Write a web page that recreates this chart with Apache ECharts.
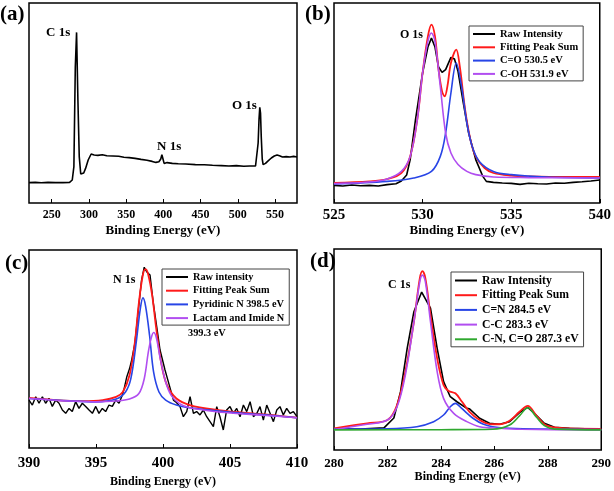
<!DOCTYPE html>
<html>
<head>
<meta charset="utf-8">
<script src="https://cdn.jsdelivr.net/npm/echarts@6/dist/echarts.min.js"></script>
<style>
  html, body { margin: 0; padding: 0; background: #fff; }
  #chart { width: 614px; height: 491px; }
</style>
</head>
<body>
<div id="chart"></div>
<script>
// all intensities are in arbitrary units, 0 = bottom of frame, 100 = top
const FONT = '"Liberation Serif", "Times New Roman", serif'

// (a) survey spectrum
const surveyTicks = [250, 300, 350, 400, 450, 500, 550]
const survey = [
    [219.5, 10.2], [228, 10.3], [236, 10.1], [245, 10.3], [255, 10.2], [265, 10.2], [274, 10.3],
    [277.6, 11.5], [279.8, 18.2], [281.7, 68], [283.4, 85.3], [285.2, 51.5], [287, 23.2],
    [289, 14.5], [291, 13.5], [293, 15], [295.5, 17.3], [299, 21.5], [303, 24.5], [307, 24],
    [312, 23.8], [318, 24.1], [324, 23.6], [332, 23.5], [340, 23.4], [347, 22.9], [354, 22.7],
    [362, 22.3], [370, 21.8], [378, 21.4], [385, 20.8], [390, 20.3], [394, 20.6], [396.5, 22],
    [398, 24.2], [399.5, 22], [401, 19.8], [405, 20.2], [412, 19.8], [420, 19.6], [430, 19.5],
    [443, 19.2], [455, 19.1], [466, 18.9], [478, 18.7], [488, 18.5], [498, 18.7], [508, 18.4],
    [516, 18.5], [523.8, 18.5], [526, 19.5], [527.3, 30], [528.5, 42], [529.5, 47.8],
    [530.5, 45], [531.5, 33], [532.8, 22], [534, 19.2], [537.2, 19.8], [540, 20.8], [545, 22.5],
    [549, 23.5], [552.7, 24], [556, 23.6], [560, 23], [565, 23.2], [570, 23], [575, 23.3], [579.5, 23]
]

// (b) O 1s
const oRaw = [
    [525, 8.8], [525.5, 8.5], [526, 9], [526.5, 8.6], [527, 8.8], [527.5, 8.5], [528, 9.2],
    [528.5, 9.6], [528.8, 11], [529.1, 14], [529.3, 21.7], [529.6, 41.7], [530, 65], [530.3, 78],
    [530.5, 82.5], [530.7, 78], [530.9, 68], [531.1, 65.3], [531.3, 66.7], [531.6, 72.8],
    [531.8, 72], [532, 65.8], [532.3, 50], [532.6, 35], [533, 21.7], [533.4, 13.3], [533.6, 10.8],
    [534, 10.3], [534.5, 10], [535, 9.8], [535.5, 9.3], [536, 9.9], [536.5, 9.6], [537, 9.5],
    [537.5, 10], [538, 9.9], [538.5, 10.3], [539, 10.6], [539.5, 11], [540, 11.5]
]
const oSum = [
    [525, 10], [527, 10.8], [528, 12], [528.8, 15], [529.3, 23.3], [529.7, 41.7], [530, 65],
    [530.3, 83.3], [530.5, 89.2], [530.7, 83.3], [530.9, 66.7], [531.1, 55.8], [531.25, 53.3],
    [531.4, 58.3], [531.6, 70], [531.9, 76.7], [532.1, 68.3], [532.4, 46.7], [532.7, 31.7],
    [533, 23.3], [533.5, 17.5], [534, 15], [535, 13.7], [536, 13.3], [538, 13], [540, 13]
]
const oCO = [
    [525, 9.5], [528, 10.8], [529.5, 12.5], [530.5, 15.8], [531, 23.3], [531.3, 35], [531.6, 55],
    [531.9, 70], [532.2, 58.3], [532.5, 40], [532.8, 28.3], [533.2, 20.8], [534, 15.8],
    [535, 14.2], [537, 13], [540, 12.5]
]
const oCOH = [
    [525, 9.7], [527, 10.5], [528, 12], [528.8, 15.8], [529.3, 23.3], [529.7, 41.7], [530, 65],
    [530.3, 80.8], [530.5, 85], [530.7, 80.8], [531, 58.3], [531.3, 35], [531.6, 25], [532, 19.2],
    [532.5, 15.8], [533, 14.2], [534, 13], [536, 12.7], [540, 12.5]
]

// (c) N 1s
const nRaw = [
    [390, 24.2], [390.25, 21.7], [390.5, 25.9], [390.75, 22.6], [391, 25.9], [391.24, 22.6],
    [391.49, 25.1], [391.74, 21], [391.99, 24.2], [392.24, 22.6], [392.49, 19.2], [392.74, 17.5],
    [392.99, 20], [393.23, 18.4], [393.48, 23.4], [393.73, 20], [393.98, 22.6], [394.23, 21],
    [394.48, 19.2], [394.73, 17.5], [394.98, 21], [395.22, 17.5], [395.47, 20], [395.72, 18.4],
    [395.97, 21.7], [396.22, 21], [396.47, 24.2], [396.72, 22.6], [396.97, 26.8], [397.1, 30],
    [397.3, 36], [397.5, 40], [397.66, 44.4], [397.9, 52.9], [398.16, 69.7], [398.4, 84.8],
    [398.6, 91.3], [398.78, 89], [399.03, 87.4], [399.28, 73], [399.53, 61.3], [399.78, 49.5],
    [400.15, 39.4], [400.5, 31], [400.78, 24.2], [401, 23], [401.27, 20.9], [401.52, 15.8],
    [401.77, 18.4], [402.02, 25.9], [402.27, 17.5], [402.51, 18.4], [402.76, 16.7], [403.01, 19.2],
    [403.26, 15.8], [403.51, 13.3], [403.76, 10.8], [404.01, 20.9], [404.25, 15.8], [404.5, 9.1],
    [404.75, 19.2], [405, 20.9], [405.25, 17.5], [405.5, 20], [405.75, 15.8], [406, 21.7],
    [406.25, 18.4], [406.5, 23.4], [406.75, 15.8], [407, 17.5], [407.24, 20.9], [407.49, 14.1],
    [407.74, 21.7], [407.99, 17.5], [408.24, 13.3], [408.49, 19.2], [408.73, 20.9], [408.98, 16.7],
    [409.23, 20], [409.48, 17.5], [409.73, 18.4], [410, 15.8]
]
const nSum = [
    [390, 25.3], [392, 24.2], [394, 23.7], [395.5, 24.2], [396.5, 25.8], [397, 28.3], [397.5, 36.7],
    [397.9, 53.3], [398.2, 73.3], [398.5, 87.5], [398.7, 90.3], [398.9, 87.5], [399.2, 76.7],
    [399.5, 60], [399.9, 41.7], [400.3, 31.7], [401, 25], [402, 21.7], [404, 19.2], [406, 17.8],
    [408, 16.7], [410, 15.3]
]
const nPyr = [
    [390, 25], [393, 23.8], [395, 23.3], [396.5, 24.7], [397.2, 28.3], [397.6, 35], [398, 53.3],
    [398.3, 70], [398.5, 75.8], [398.7, 71.7], [399, 56.7], [399.3, 38.3], [399.7, 28.3],
    [400.2, 24.2], [401, 21.7], [402, 20.3], [404, 18.8], [406, 17.5], [408, 16.5], [410, 15.3]
]
const nLac = [
    [390, 25], [393, 23.7], [395, 23.3], [396.5, 23.7], [397.5, 24.7], [398.2, 27.5], [398.6, 35],
    [398.9, 48.3], [399.1, 55], [399.3, 58.3], [399.5, 55.8], [399.8, 45], [400.2, 33.3],
    [400.6, 26.7], [401.2, 22.5], [402, 20.3], [404, 18.3], [406, 17.2], [408, 16.3], [410, 15.3]
]

// (d) C 1s
const cRaw = [
    [280, 10.4], [281, 10.4], [281.87, 11], [282.24, 15.9], [282.49, 29], [282.74, 50.7],
    [282.99, 68.8], [283.28, 78.6], [283.61, 70.6], [283.86, 50.6], [284.1, 34], [284.35, 26.5],
    [284.6, 24], [284.97, 20.7], [285.07, 20.5], [285.45, 15.8], [285.82, 13.3], [286.19, 12.8],
    [286.57, 14.1], [286.94, 18.6], [287.25, 21.2], [287.56, 17.4], [287.87, 13.3], [288.25, 11.3],
    [288.81, 10.8], [290, 10.3]
]
const cSum = [
    [280, 10.8], [281.24, 13.3], [282, 14.9], [282.36, 22.4], [282.67, 39], [282.99, 63.8],
    [283.21, 85.4], [283.31, 89], [283.42, 85.4], [283.61, 67.2], [283.86, 45.6], [284.1, 32.3],
    [284.29, 29.4], [284.54, 28.2], [284.79, 24], [285.07, 19], [285.45, 14.9], [285.82, 12.9],
    [286.19, 12.8], [286.57, 14.6], [286.94, 19], [287.25, 22], [287.56, 17.4], [287.87, 12.8],
    [288.25, 11.2], [288.81, 10.7], [290, 10.5]
]
const cCN = [
    [280, 10.4], [282, 10.6], [283.1, 11.6], [283.73, 14.1], [284.1, 17.4], [284.35, 21.5],
    [284.54, 23.2], [284.72, 21.5], [284.92, 19], [285.2, 15.8], [285.57, 12.9], [285.94, 11.6],
    [286.57, 10.8], [288, 10.4], [290, 10.2]
]
const cCC = [
    [280, 10.2], [281.24, 12.8], [282, 14.9], [282.36, 21.5], [282.67, 37.3], [282.99, 63.8],
    [283.21, 83.7], [283.31, 87], [283.42, 83.7], [283.61, 63.8], [283.86, 39], [284.1, 25.7],
    [284.48, 18.2], [284.97, 14.1], [285.45, 11.6], [286.19, 10.8], [287, 10.3], [290, 10]
]
const cCO = [
    [280, 10], [284, 10.1], [285.94, 10.3], [286.57, 12.4], [286.94, 17], [287.25, 21],
    [287.56, 16.6], [287.87, 12.1], [288.25, 10.4], [290, 10]
]

const grids = [
    { left: 29, top: 3, width: 268, height: 200 },
    { left: 334, top: 3, width: 268, height: 200 },
    { left: 29, top: 250, width: 268, height: 198 },
    { left: 334, top: 249, width: 268, height: 201 }
]

function xAxis(i, min, max, ticks, fontSize, margin, nameGap, nameSize) {
    return {
        type: 'value', gridIndex: i, min: min, max: max,
        axisLine: { show: false },
        splitLine: { show: false },
        axisTick: { inside: true, length: 4, customValues: ticks, lineStyle: { color: '#000', width: 1 } },
        axisLabel: {
            customValues: ticks, margin: margin, color: '#000',
            fontFamily: FONT, fontWeight: 'bold', fontSize: fontSize
        },
        name: 'Binding Energy (eV)', nameLocation: 'middle', nameGap: nameGap,
        nameTextStyle: { fontFamily: FONT, fontWeight: 'bold', fontSize: nameSize, color: '#000' }
    }
}

function line(name, i, data, color, width, smooth) {
    return {
        name: name, type: 'line', xAxisIndex: i, yAxisIndex: i, data: data,
        symbol: 'none', smooth: smooth ? 0.35 : false,
        lineStyle: { color: color, width: width }, itemStyle: { color: color },
        silent: true
    }
}

function legend(left, top, names, fontSize, lineH, gap) {
    return {
        left: left, top: top, orient: 'vertical', data: names, selectedMode: false,
        borderColor: '#444', borderWidth: 1, padding: [2, 5, 1, 4],
        icon: 'rect', itemWidth: 22, itemHeight: 2, itemGap: gap,
        textStyle: { fontFamily: FONT, fontWeight: 'bold', fontSize: fontSize, lineHeight: lineH, color: '#000' }
    }
}

function label(text, x, y, size) {
    return {
        type: 'text', x: x, y: y,
        style: { text: text, font: 'bold ' + size + 'px ' + FONT, fill: '#000', verticalAlign: 'middle' }
    }
}

const BLACK = '#000000', RED = '#ff1a1a', BLUE = '#2845e6', PURPLE = '#b14ef0', GREEN = '#2fa82f'

const chart = echarts.init(document.getElementById('chart'))
chart.setOption({
    animation: false,
    backgroundColor: '#fff',
    grid: grids.map(g => Object.assign({ show: true, borderColor: '#000', borderWidth: 1.5 }, g)),
    xAxis: [
        xAxis(0, 219.5, 579.5, surveyTicks, 12, 6, 21, 13),
        xAxis(1, 525, 540, [525, 530, 535, 540], 15, 5, 21, 13),
        xAxis(2, 390, 410, [390, 395, 400, 405, 410], 15, 8, 28, 12),
        xAxis(3, 280, 290, [280, 282, 284, 286, 288, 290], 13, 7, 21, 12)
    ],
    yAxis: [0, 1, 2, 3].map(i => ({ type: 'value', gridIndex: i, min: 0, max: 100, show: false })),
    legend: [
        legend(469, 26, ['Raw Intensity', 'Fitting Peak Sum', 'C=O 530.5 eV', 'C-OH 531.9 eV'], 10.5, 12, 1.3),
        legend(162, 269, ['Raw intensity', 'Fitting Peak Sum', 'Pyridinic N 398.5 eV', 'Lactam and Imide N'], 10.3, 12, 1.7),
        legend(451, 272, ['Raw Intensity', 'Fitting Peak Sum', 'C=N 284.5 eV', 'C-C 283.3 eV', 'C-N, C=O 287.3 eV'], 11.7, 13, 1.7)
    ],
    graphic: [
        label('(a)', 0, 15, 21),
        label('(b)', 305, 15, 21),
        label('(c)', 5, 264, 21),
        label('(d)', 310, 262, 21),
        label('C 1s', 46, 33, 13),
        label('N 1s', 157, 147, 13),
        label('O 1s', 232, 106, 13),
        label('O 1s', 400, 35, 12),
        label('N 1s', 113, 280, 12),
        label('C 1s', 388, 285, 12),
        label('399.3 eV', 188, 333, 10.3)
    ],
    series: [
        line('Survey', 0, survey, BLACK, 1.6, false),
        line('Raw Intensity', 1, oRaw, BLACK, 1.6, false),
        line('Fitting Peak Sum', 1, oSum, RED, 1.8, true),
        line('C=O 530.5 eV', 1, oCO, BLUE, 1.6, true),
        line('C-OH 531.9 eV', 1, oCOH, PURPLE, 1.6, true),
        line('Raw intensity', 2, nRaw, BLACK, 1.4, false),
        line('Fitting Peak Sum', 2, nSum, RED, 1.8, true),
        line('Pyridinic N 398.5 eV', 2, nPyr, BLUE, 1.6, true),
        line('Lactam and Imide N', 2, nLac, PURPLE, 1.6, true),
        line('Raw Intensity', 3, cRaw, BLACK, 1.6, false),
        line('Fitting Peak Sum', 3, cSum, RED, 1.8, true),
        line('C=N 284.5 eV', 3, cCN, BLUE, 1.6, true),
        line('C-C 283.3 eV', 3, cCC, PURPLE, 1.6, true),
        line('C-N, C=O 287.3 eV', 3, cCO, GREEN, 1.6, true)
    ]
})
</script>
</body>
</html>
